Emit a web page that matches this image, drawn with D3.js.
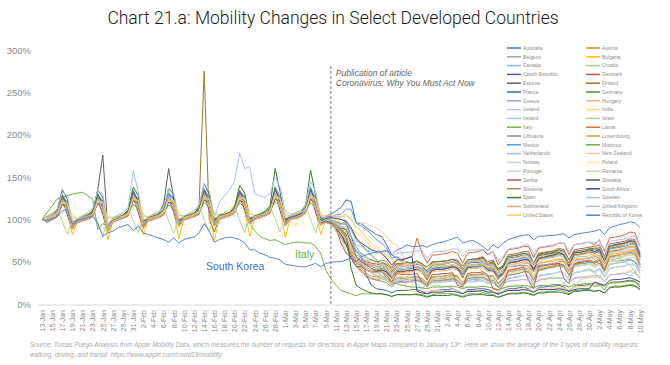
<!DOCTYPE html>
<html><head><meta charset="utf-8">
<script src="https://cdn.jsdelivr.net/npm/d3@7"></script>
<style>body{margin:0;background:#fff;} svg{display:block;font-family:"Liberation Sans",Arial,Helvetica,sans-serif;}</style>
</head><body><svg id="c" width="670" height="365"></svg>
<script>
const startDate = "2020-01-13", endDate = "2020-05-10";
const yTicks = [0, 50, 100, 150, 200, 250, 300];
const countryNames = ["Australia","Austria","Belgium","Bulgaria","Canada","Croatia","Czech Republic","Denmark","Estonia","Finland","France","Germany","Greece","Hungary","Iceland","India","Ireland","Israel","Italy","Latvia","Lithuania","Luxembourg","Mexico","Morocco","Netherlands","New Zealand","Norway","Poland","Portugal","Romania","Serbia","Slovakia","Slovenia","South Africa","Spain","Sweden","Switzerland","United Kingdom","United States","Republic of Korea"];
const countryColors = ["#4472C4","#ED7D31","#A5A5A5","#FFC000","#8db7e0","#A9D18E","#4a5aa8","#c55a44","#636363","#9c7a28","#3a68b0","#4a8a3a","#8faadc","#F4B183","#c8c8c8","#FFD966","#a9c8ec","#b4d89a","#78b04f","#e06d3a","#8c8c8c","#c9a043","#5B9BD5","#70AD47","#9DC3E6","#f8cbad","#d0d0d0","#ffe699","#bdd7ee","#c5e0b4","#b55a50","#595959","#a68a64","#3b4a9a","#3f7a34","#a9c4ec","#f4a470","#bfbfbf","#ffcf50","#5a82d2"];

const australia = [100,99,102,106,122,112,90, 97,100,102,105,124,116,89, 99,101,104,107,127,118,94, 101,103,105,108,128,119,96, 102,104,106,110,131,120,97, 104,105,107,111,130,121,99, 103,106,108,112,133,122,98, 104,106,108,113,135,124,101, 104,106,110,114,123,121,96, 95,90,86,82,80,70,58, 54,50,48,47,48,46,40, 46,47,47,48,50,47,41, 48,49,49,50,44,46,40, 44,51,52,53,55,54,47, 54,55,56,57,59,58,50, 57,58,60,61,62,63,55, 62,63,64,66,68,67,58];
const austria = [100,102,105,110,128,120,90, 99,102,104,108,127,121,87, 98,101,104,110,132,124,92, 101,103,106,111,131,125,94, 102,104,107,113,135,126,95, 104,105,108,114,133,127,97, 102,104,107,112,134,125,95, 101,103,105,110,132,122,96, 98,96,90,84,82,62,45, 38,32,30,29,30,28,22, 28,28,29,29,30,28,21, 29,30,30,31,33,32,23, 32,33,33,35,31,33,22, 30,40,41,42,44,45,32, 45,46,47,48,50,50,37, 48,50,51,52,50,54,40, 56,57,58,60,62,63,46];
const belgium = [100,100,103,107,126,114,91, 97,100,102,106,125,117,88, 97,99,102,107,128,118,92, 99,101,103,108,128,119,94, 100,102,104,110,132,120,95, 102,103,105,111,131,121,97, 102,103,106,111,133,121,95, 101,103,105,111,133,120,96, 99,98,96,94,98,70,50, 48,44,38,33,32,30,26, 31,31,32,32,33,30,25, 32,33,33,34,35,33,26, 34,35,35,36,33,34,25, 30,38,39,40,41,40,31, 41,42,43,44,45,43,34, 44,45,46,47,44,46,36, 47,48,49,50,52,50,39];
const bulgaria = [100,103,106,110,126,108,82, 97,101,104,108,125,107,76, 98,102,105,109,130,111,82, 100,104,106,111,129,109,77, 101,105,107,112,133,112,75, 102,106,108,113,131,110,80, 101,105,108,114,136,112,78, 102,104,107,113,134,110,82, 100,97,94,90,84,62,50, 52,48,44,42,43,40,32, 40,40,41,42,44,40,32, 42,43,43,44,46,44,34, 45,46,47,48,45,44,33, 40,50,51,52,54,52,41, 53,54,55,56,58,56,45, 57,58,59,60,56,58,47, 61,62,63,65,67,66,52];
const canada = [100,102,104,107,125,116,93, 99,101,103,106,124,118,90, 100,102,104,108,128,120,95, 101,103,105,109,127,120,96, 102,104,106,110,130,121,97, 103,105,107,111,129,122,99, 103,105,107,112,132,122,97, 104,106,108,113,133,123,99, 103,104,103,100,96,80,68, 58,52,48,45,46,42,38, 42,41,41,42,44,41,37, 42,42,43,43,45,42,38, 44,44,45,46,42,42,36, 43,46,47,48,50,48,42, 48,49,50,51,53,52,45, 51,52,53,54,56,55,48, 54,55,56,57,60,58,50];
const croatia = [100,96,99,103,120,112,88, 96,99,101,104,122,114,86, 97,99,102,106,126,116,90, 99,100,103,107,125,117,91, 100,102,104,108,128,118,92, 101,103,105,109,127,119,94, 100,102,104,109,129,118,92, 100,101,103,108,128,117,93, 97,95,93,90,88,70,56, 50,44,38,33,30,28,22, 26,26,27,27,28,26,20, 27,28,28,29,30,28,21, 30,31,31,32,29,30,20, 28,34,35,36,38,38,28, 39,40,42,43,45,44,33, 46,48,50,51,48,52,38, 56,57,58,60,62,62,46];
const czechRepublic = [100,101,104,108,124,105,88, 98,100,103,106,123,106,86, 98,101,104,107,126,108,90, 100,102,105,108,125,108,91, 101,103,106,110,129,110,92, 102,104,107,111,128,111,93, 102,104,106,111,131,110,92, 101,103,106,110,130,108,92, 98,94,88,82,75,58,46, 46,42,40,39,40,38,30, 38,38,39,40,41,38,29, 40,41,41,42,44,42,31, 43,44,44,46,40,42,30, 38,48,50,51,53,52,38, 55,56,58,60,62,58,44, 60,62,63,65,60,62,48, 68,70,71,72,74,72,56];
const denmark = [100,97,100,103,118,110,91, 96,98,100,103,120,112,89, 97,99,101,104,123,114,92, 98,100,102,105,122,114,93, 99,101,103,106,125,115,94, 100,102,104,107,124,116,95, 100,102,104,107,126,116,94, 100,101,103,107,125,114,95, 97,96,90,72,60,55,48, 50,48,46,46,48,47,40, 47,47,48,48,50,48,40, 49,50,50,51,53,52,42, 52,53,54,56,50,52,40, 46,58,59,60,62,62,48, 60,61,62,63,66,64,52, 64,65,66,67,68,70,56, 71,72,73,74,77,76,60];
const estonia = [100,99,102,106,126,116,90, 97,100,103,108,135,176,88, 98,100,103,107,130,120,92, 100,102,104,108,130,121,94, 101,103,105,110,133,122,95, 102,104,106,111,132,123,97, 101,103,106,111,135,123,95, 101,103,105,110,134,121,96, 98,95,90,78,70,58,48, 48,46,44,44,46,44,36, 44,44,45,45,47,45,36, 46,47,47,48,50,48,38, 49,50,50,52,46,48,36, 44,54,55,56,58,57,45, 57,58,59,60,62,60,48, 60,61,62,64,62,65,52, 66,67,68,70,72,71,56];
const finland = [100,98,101,105,124,114,92, 97,99,102,105,125,116,89, 98,100,102,106,128,118,93, 99,101,103,107,128,119,94, 100,102,104,118,275,100,85, 102,104,106,110,131,121,97, 101,103,105,110,134,121,95, 101,102,104,109,133,119,96, 97,95,90,82,72,58,48, 50,47,45,44,46,44,38, 45,45,46,46,48,46,38, 47,48,48,49,51,50,40, 50,51,52,54,48,50,38, 46,56,57,58,60,59,47, 58,59,60,61,64,62,50, 61,62,63,65,64,67,54, 68,69,70,72,74,73,58];
const france = [100,102,105,109,128,117,92, 99,101,104,108,127,119,89, 99,101,104,109,131,121,94, 101,103,105,110,130,122,96, 102,104,106,112,135,123,97, 104,105,107,113,133,124,99, 103,104,107,112,136,124,97, 102,104,106,112,137,122,98, 100,99,97,95,96,80,62, 56,34,22,18,17,16,13, 16,16,16,17,17,15,12, 16,16,17,17,18,16,12, 17,17,18,18,17,15,11, 15,18,18,19,20,18,14, 20,20,21,21,22,20,15, 21,22,22,23,21,22,17, 25,26,26,27,28,27,20];
const germany = [100,101,103,107,122,112,90, 97,100,102,105,124,115,88, 98,100,102,106,127,117,92, 99,101,103,107,126,117,93, 100,102,104,109,130,118,94, 101,103,105,110,128,119,96, 101,103,105,110,131,119,94, 100,102,104,109,131,117,95, 97,96,94,90,88,74,62, 60,55,52,50,50,46,44, 48,48,49,49,51,47,44, 50,50,51,51,53,50,45, 52,53,53,55,46,50,42, 45,56,57,58,60,58,48, 59,60,61,62,64,62,52, 62,63,64,65,66,66,54, 67,68,69,70,72,71,58];
const greece = [100,103,106,110,130,120,94, 100,103,105,109,129,122,91, 100,102,105,110,133,124,96, 102,104,106,111,132,125,97, 103,105,107,113,137,126,98, 105,106,108,114,135,127,100, 104,106,108,114,139,127,98, 103,105,107,113,138,125,99, 100,99,96,92,88,70,58, 55,50,44,38,34,30,24, 28,26,26,27,28,25,20, 27,27,28,28,29,27,21, 28,29,29,30,27,26,19, 24,30,31,32,34,32,25, 33,34,35,36,38,37,28, 37,38,39,40,38,42,32, 42,43,44,45,47,46,36];
const hungary = [100,101,104,108,125,110,89, 98,100,103,106,124,112,86, 98,101,103,107,127,114,90, 100,102,104,108,127,115,92, 101,103,105,110,131,116,93, 102,104,106,111,130,117,95, 102,104,106,111,132,117,93, 101,103,105,110,131,115,94, 98,97,94,88,82,66,54, 52,48,46,45,46,44,36, 44,44,45,46,48,45,36, 46,47,47,48,50,48,38, 49,50,50,52,47,46,34, 40,52,53,54,56,55,43, 55,56,57,58,60,58,46, 58,59,60,61,58,60,48, 63,64,65,66,68,67,52];
const iceland = [100,97,101,106,120,118,95, 96,99,103,107,122,121,92, 97,100,104,108,126,123,97, 99,102,105,109,126,124,98, 100,103,106,111,129,125,99, 102,104,107,112,128,126,101, 101,104,107,112,130,126,99, 100,103,106,112,130,124,100, 99,97,95,92,88,76,64, 60,56,50,46,44,42,36, 40,40,41,42,44,42,36, 42,43,43,44,46,44,38, 45,46,47,48,44,46,36, 42,50,51,52,54,55,45, 54,56,57,58,61,60,50, 60,62,63,64,62,66,54, 68,70,71,72,76,75,62];
const india = [100,103,106,108,118,116,104, 101,104,107,108,120,118,102, 102,104,107,109,122,120,106, 103,105,108,110,121,121,107, 104,106,108,111,124,122,108, 105,107,109,112,123,123,110, 104,107,109,112,125,122,108, 98,92,104,108,124,121,107, 102,100,98,96,94,90,84, 80,74,68,64,60,55,30, 42,38,18,15,14,13,12, 14,14,14,15,15,14,12, 15,15,15,16,15,15,13, 15,16,16,17,17,17,15, 18,18,19,19,20,19,17, 20,20,21,21,22,21,18, 24,25,25,26,27,26,22];
const ireland = [100,102,104,108,126,118,93, 99,101,103,107,126,120,90, 99,101,104,108,130,122,95, 101,103,105,109,129,123,96, 102,104,106,111,133,124,97, 104,105,107,112,132,125,99, 103,105,107,112,135,125,97, 103,104,106,112,135,123,98, 100,99,96,90,78,64,52, 48,40,36,34,33,31,27, 30,30,30,29,28,26,22, 25,25,26,26,27,25,21, 26,26,27,27,25,25,20, 24,27,27,28,29,28,23, 29,29,30,30,31,30,25, 30,31,31,32,31,33,27, 34,35,35,36,38,37,30];
const israel = [100,104,107,112,98,82,102, 101,105,108,113,96,80,103, 102,105,108,114,99,84,104, 103,106,109,115,98,83,105, 104,107,110,116,100,85,106, 105,108,111,117,99,84,107, 104,107,110,116,101,85,106, 104,106,109,118,100,84,105, 103,100,85,82,78,58,62, 60,55,48,44,42,28,36, 34,32,30,28,24,18,24, 22,22,21,20,19,15,20, 20,20,18,14,12,10,14, 18,20,22,23,20,16,25, 28,30,31,32,30,24,33, 36,38,40,42,38,30,44, 46,48,49,50,46,38,52];
const italy = [100,102,104,107,124,116,92, 98,100,103,106,123,118,89, 98,100,103,107,127,120,93, 100,102,104,108,126,120,95, 101,103,105,110,131,121,96, 103,104,106,111,128,124,95, 86,80,77,75,76,73,70, 72,73,73,72,72,68,60, 40,30,22,16,14,12,10, 12,12,12,12,12,11,9, 11,11,11,11,12,11,9, 11,12,12,12,12,11,9, 12,12,12,13,12,11,8, 10,12,13,13,14,13,11, 14,14,15,15,16,15,12, 16,16,17,17,15,16,13, 20,21,21,22,23,22,18];
const latvia = [100,101,104,108,126,114,91, 98,100,103,107,126,116,88, 98,101,104,108,129,118,92, 100,102,105,109,128,119,94, 101,103,106,111,132,120,95, 102,104,107,112,131,121,97, 102,104,106,111,133,120,95, 101,103,105,110,132,118,96, 98,96,92,86,78,64,52, 52,50,48,48,52,50,42, 52,53,54,56,78,60,48, 58,58,59,60,62,60,48, 60,61,62,64,58,62,46, 54,64,65,66,68,68,55, 66,67,68,69,72,72,58, 70,71,72,73,70,76,62, 78,79,80,82,85,84,68];
const lithuania = [100,100,103,107,124,112,90, 97,99,102,106,125,114,87, 97,100,103,107,128,116,91, 99,101,104,108,128,117,93, 100,102,105,110,131,118,94, 101,103,106,111,130,119,96, 101,103,105,110,132,118,94, 100,102,104,109,131,116,95, 97,95,92,86,78,62,50, 46,42,40,40,42,40,32, 40,40,41,42,43,41,33, 42,43,43,44,46,44,34, 45,46,46,48,42,44,33, 40,50,51,52,54,54,42, 54,55,56,57,60,58,46, 58,59,60,62,60,63,50, 65,66,67,68,70,70,55];
const luxembourg = [100,101,103,107,122,110,88, 97,99,102,105,121,112,85, 97,99,102,106,124,113,89, 99,100,103,107,124,114,91, 100,101,104,108,127,115,92, 101,102,105,109,126,116,94, 101,102,104,109,128,115,92, 100,101,103,108,127,113,93, 97,94,92,88,82,62,46, 42,36,33,32,32,30,24, 30,30,31,31,32,30,24, 31,32,32,33,34,32,25, 33,34,34,36,32,32,24, 29,38,39,40,42,42,32, 42,43,44,45,47,46,36, 46,47,48,49,46,48,38, 52,53,54,56,58,57,44];
const mexico = [100,102,105,109,126,120,96, 100,103,105,109,126,122,93, 100,103,105,110,129,124,98, 102,104,106,111,128,125,99, 103,105,107,112,132,126,100, 104,106,108,113,130,127,101, 104,106,108,113,133,127,100, 103,105,107,113,133,125,101, 102,104,105,106,112,112,95, 92,88,82,76,72,66,54, 56,52,50,48,48,45,38, 46,45,45,45,46,43,36, 44,44,44,45,40,38,32, 38,44,44,45,46,44,38, 46,46,47,47,48,46,40, 47,48,48,49,50,48,42, 50,51,51,52,53,50,43];
const morocco = [100,108,116,124,126,128,130, 131,132,128,124,88,95,92, 98,100,104,106,118,112,95, 100,102,104,107,117,113,96, 101,103,105,109,120,114,97, 102,104,106,110,119,115,99, 102,104,106,110,121,115,97, 101,103,105,109,120,113,98, 100,99,97,95,94,88,76, 70,64,58,52,40,30,26, 24,22,21,20,20,19,18, 20,20,20,21,21,20,18, 20,20,20,21,20,19,17, 19,21,21,21,22,21,19, 22,22,22,23,23,22,20, 23,23,24,24,24,23,21, 25,25,26,26,27,26,23];
const netherlands = [100,101,103,107,123,115,92, 97,100,102,105,124,117,89, 98,100,102,106,127,118,93, 99,101,103,107,126,119,94, 100,102,104,109,130,120,95, 102,103,105,110,128,121,97, 101,103,105,110,131,120,95, 101,102,104,109,131,118,96, 98,97,95,92,88,70,56, 52,46,44,43,44,42,36, 42,42,43,43,45,42,36, 44,44,45,45,47,45,38, 46,47,47,49,45,47,38, 42,50,51,52,54,54,44, 52,53,54,55,57,56,46, 55,56,56,57,55,58,48, 60,61,62,63,65,64,52];
const newZealand = [100,101,104,108,120,118,95, 98,101,103,106,121,120,93, 99,101,104,107,124,122,97, 100,102,105,108,123,122,98, 101,103,106,110,126,123,99, 102,104,107,111,125,124,100, 102,104,107,111,127,124,99, 102,103,106,110,127,122,100, 100,101,102,103,104,100,90, 96,95,92,90,86,80,72, 70,60,40,24,18,16,14, 16,16,16,16,17,16,13, 16,16,16,17,14,15,12, 14,17,17,17,18,17,14, 18,18,18,18,19,18,15, 16,28,30,31,32,32,26, 34,35,36,37,40,40,32];
const norway = [100,99,102,106,121,113,91, 97,99,101,105,122,115,88, 97,99,102,106,125,116,92, 99,100,103,107,124,117,93, 100,101,104,108,128,118,94, 101,102,105,109,127,119,96, 100,102,104,109,129,118,94, 100,101,103,108,129,116,95, 97,95,92,80,62,54,48, 48,45,44,44,46,45,40, 45,45,46,46,48,46,40, 47,48,48,49,51,49,42, 50,51,51,48,40,42,36, 38,53,54,55,57,57,47, 56,57,58,59,62,61,50, 60,61,62,63,62,66,52, 67,68,69,70,72,72,58];
const poland = [100,101,104,108,122,110,88, 97,100,103,106,122,112,85, 97,100,103,107,125,114,89, 99,101,104,108,124,114,90, 100,102,105,110,128,115,91, 101,103,106,111,127,116,93, 101,103,105,110,129,115,91, 100,102,104,109,128,113,92, 97,95,92,84,76,58,46, 44,40,38,37,38,36,28, 36,36,37,37,38,36,27, 34,34,35,35,36,34,26, 36,37,37,38,30,32,22, 28,40,41,42,44,44,32, 44,45,46,47,49,48,36, 48,49,50,51,45,46,36, 53,54,55,56,58,57,44];
const portugal = [100,102,104,108,124,118,93, 99,101,103,107,124,120,90, 99,101,104,108,128,122,95, 101,103,105,109,127,122,96, 102,104,106,111,131,123,97, 103,105,107,112,129,124,99, 103,105,107,112,132,124,97, 102,104,106,111,132,122,98, 100,98,96,92,86,72,56, 50,42,38,34,32,30,24, 28,28,28,28,29,27,22, 28,28,29,29,30,28,22, 29,30,30,31,26,26,20, 24,31,32,33,34,33,26, 34,35,36,36,38,37,29, 37,38,39,40,36,40,31, 42,43,44,45,47,46,36];
const romania = [100,101,104,107,121,112,90, 98,100,103,106,121,114,87, 98,100,103,107,124,116,91, 99,101,104,108,123,116,92, 100,102,105,109,127,117,93, 101,103,106,110,126,118,95, 101,103,105,110,128,117,93, 100,102,104,109,127,115,94, 97,96,93,88,84,66,52, 48,42,40,38,36,34,28, 34,32,31,30,31,28,22, 30,30,31,31,32,30,24, 32,33,33,34,32,30,22, 28,36,37,38,40,40,30, 40,41,42,43,45,44,34, 44,45,46,47,44,46,36, 50,51,52,53,55,54,42];
const serbia = [100,100,103,107,123,113,90, 97,99,102,105,123,115,87, 97,99,102,106,126,116,91, 99,101,103,107,125,117,92, 100,102,104,109,129,118,93, 101,103,105,110,128,119,95, 101,102,105,109,130,118,93, 100,102,104,109,130,116,94, 97,96,94,90,88,72,56, 50,46,42,40,38,34,26, 36,35,35,35,36,26,22, 35,35,36,36,37,22,20, 36,37,37,38,34,18,16, 22,40,41,42,44,28,18, 44,45,46,47,48,30,24, 48,49,50,51,48,52,40, 56,57,58,59,61,60,46];
const slovakia = [100,100,103,108,128,116,90, 98,100,103,108,130,118,87, 98,101,104,109,134,120,92, 100,102,106,118,160,124,94, 101,103,106,111,134,121,95, 102,104,107,112,133,122,97, 102,104,106,112,137,121,95, 101,103,106,111,136,119,96, 98,96,90,82,70,54,44, 44,40,38,38,40,38,30, 38,38,39,39,41,38,29, 40,41,41,42,44,42,31, 43,44,44,46,40,40,29, 36,48,49,50,52,52,40, 54,55,57,58,61,58,45, 60,61,62,64,62,65,50, 68,70,71,72,75,74,58];
const slovenia = [100,100,103,107,124,112,89, 97,99,102,105,124,114,86, 97,100,102,106,127,115,90, 99,101,103,107,126,116,92, 100,102,104,109,130,117,93, 101,103,105,110,129,118,95, 101,103,105,110,131,117,93, 100,102,104,109,130,115,94, 97,95,92,86,78,58,44, 40,34,30,28,27,25,20, 26,26,26,27,28,26,20, 27,28,28,29,30,28,21, 30,31,31,32,28,28,20, 26,34,35,36,38,38,28, 40,41,43,44,46,45,34, 47,48,50,51,48,52,40, 56,57,58,59,62,61,47];
const southAfrica = [100,102,104,107,118,114,96, 100,102,104,106,119,116,94, 100,102,104,107,122,118,98, 101,103,105,108,120,118,99, 102,104,106,109,123,119,100, 103,105,107,110,122,120,101, 103,105,107,110,124,120,100, 102,104,106,110,124,118,100, 101,102,101,100,98,90,78, 72,68,64,62,60,54,46, 52,52,54,56,15,13,12, 14,14,14,15,15,14,12, 15,15,15,16,14,14,12, 14,16,16,16,17,16,14, 17,17,17,17,18,17,15, 17,18,18,18,26,24,22, 28,29,29,30,31,29,26];
const spain = [100,103,106,111,135,124,92, 99,102,105,110,134,126,89, 99,102,105,111,138,128,94, 102,104,106,112,137,129,96, 103,105,107,114,142,130,97, 105,106,108,115,140,131,99, 104,106,109,116,160,132,97, 104,106,108,116,158,128,98, 100,98,94,88,82,42,22, 18,15,13,12,12,11,9, 11,11,11,11,11,10,8, 10,10,10,10,11,10,8, 10,11,11,11,10,10,8, 10,12,12,12,13,12,10, 13,13,14,14,14,13,11, 15,15,16,16,15,16,13, 19,20,20,21,22,21,17];
const sweden = [100,103,106,112,132,128,96, 101,104,107,112,134,130,94, 102,105,108,114,158,132,99, 103,106,108,114,137,131,100, 104,107,110,117,142,134,102, 120,128,135,145,178,160,162, 130,128,126,130,150,138,110, 106,108,110,116,145,132,104, 100,98,94,90,92,80,70, 68,64,62,60,62,62,54, 60,60,61,61,63,63,54, 61,62,62,63,65,65,56, 63,64,64,65,60,62,52, 56,65,66,67,69,70,60, 67,68,69,70,72,72,62, 70,71,72,73,72,75,64, 74,75,76,77,80,80,68];
const switzerland = [100,100,103,107,122,113,90, 97,99,102,105,122,115,87, 97,99,102,106,125,116,91, 99,100,103,107,124,117,92, 100,101,104,108,128,118,93, 101,102,105,109,127,119,95, 100,102,104,109,129,118,93, 100,101,103,108,129,116,94, 96,94,90,86,80,62,50, 48,40,38,37,38,36,30, 37,37,38,38,40,38,30, 38,39,39,40,42,40,32, 41,42,42,43,38,38,30, 34,44,45,46,48,48,38, 48,49,50,51,53,52,42, 52,53,54,55,53,56,44, 58,59,60,61,63,62,48];
const unitedKingdom = [100,101,103,107,122,118,92, 98,100,102,106,123,120,89, 98,100,103,107,126,122,94, 100,102,104,108,125,122,95, 101,103,105,110,129,123,96, 102,104,106,111,128,124,98, 102,103,106,110,130,123,96, 101,103,105,110,130,121,97, 99,98,96,94,96,88,74, 70,62,56,52,50,42,34, 32,28,26,26,27,25,21, 26,26,27,27,28,26,21, 27,27,28,28,24,25,19, 23,27,28,28,29,28,23, 29,29,30,30,31,30,25, 31,32,32,33,34,33,27, 34,35,36,36,33,38,30];
const unitedStates = [100,102,104,107,120,118,98, 100,102,104,106,121,120,96, 100,102,104,107,124,122,100, 101,103,105,108,123,122,101, 102,104,106,109,126,123,102, 103,105,107,110,125,124,103, 103,105,107,110,127,124,102, 104,106,108,111,128,124,104, 104,105,104,103,106,100,90, 86,78,72,66,62,58,52, 52,50,48,47,48,46,42, 46,45,45,45,46,44,40, 45,45,45,46,44,44,38, 42,47,47,48,50,50,44, 50,51,51,52,54,54,47, 53,54,54,55,57,57,50, 57,58,58,59,62,61,54];
const republicOfKorea = [100,98,101,103,110,112,94, 99,100,102,104,95,80,84, 86,90,92,94,87,92,84, 82,80,78,76,73,78,72, 76,78,79,84,95,86,73, 76,78,79,78,76,72,64, 64,60,58,55,54,52,47, 46,45,44,44,46,48,44, 48,49,50,50,52,54,50, 56,58,60,61,62,63,58, 64,66,70,68,68,69,67, 70,72,73,75,77,79,72, 74,75,72,68,63,70,66, 72,76,78,80,81,82,76, 80,80,81,81,82,83,78, 82,83,84,85,86,88,82, 90,92,94,95,97,96,90];

const seriesValues = [australia, austria, belgium, bulgaria, canada, croatia, czechRepublic, denmark, estonia, finland, france, germany, greece, hungary, iceland, india, ireland, israel, italy, latvia, lithuania, luxembourg, mexico, morocco, netherlands, newZealand, norway, poland, portugal, romania, serbia, slovakia, slovenia, southAfrica, spain, sweden, switzerland, unitedKingdom, unitedStates, republicOfKorea];

const svg = d3.select("#c");
const parse = d3.utcParse("%Y-%m-%d");
const dates = d3.utcDay.range(parse(startDate), d3.utcDay.offset(parse(endDate), 1));
const x = d3.scaleUtc().domain([dates[0], dates[dates.length - 1]]).range([42, 640]);
const y = d3.scaleLinear().domain([0, 300]).range([304, 50]);

// title
svg.append("text").attr("x", 333).attr("y", 24).attr("text-anchor", "middle")
  .attr("font-family", "Roboto, 'Liberation Sans', Arial, sans-serif").attr("font-weight", 300)
  .attr("font-size", 17.5).attr("fill", "#1a1a1a").text("Chart 21.a: Mobility Changes in Select Developed Countries");

// y axis labels
const gy = svg.append("g").attr("transform", "translate(34,0)")
  .call(d3.axisLeft(y).tickValues(yTicks).tickFormat(d => d + "%").tickSize(0).tickPadding(3));
gy.select(".domain").remove();
gy.selectAll("text").attr("fill", "#8c8c8c").attr("font-size", 9.5).attr("font-family", "Liberation Sans, Arial, sans-serif");

// x axis
const gx = svg.append("g").attr("transform", "translate(0,305)")
  .call(d3.axisBottom(x).tickValues(dates.filter((d, i) => i % 2 === 0)).tickFormat(d3.utcFormat("%-d-%b")).tickSize(0));
gx.select(".domain").attr("stroke", "#d9d9d9").attr("d", "M38,0H643");
gx.selectAll("text").attr("transform", "rotate(-90)").attr("text-anchor", "end")
  .attr("x", -5).attr("y", 0).attr("dy", "0.32em").attr("fill", "#8c8c8c").attr("font-size", 7)
  .attr("font-family", "Liberation Sans, Arial, sans-serif");

// lines
const line = d3.line().x((d, i) => x(dates[i])).y(d => y(d));
svg.append("g").selectAll("path").data(seriesValues).join("path")
  .attr("d", line).attr("fill", "none")
  .attr("stroke", (d, i) => countryColors[i]).attr("stroke-width", 1).attr("stroke-linejoin", "round");

// publication line
const pubX = x(parse("2020-03-10"));
svg.append("line").attr("x1", pubX).attr("x2", pubX).attr("y1", 66).attr("y2", 305)
  .attr("stroke", "#777").attr("stroke-dasharray", "3,2").attr("stroke-width", 1);
svg.append("text").attr("x", pubX + 5).attr("y", 76).attr("font-size", 8.5).attr("font-style", "italic").attr("fill", "#666")
  .text("Publication of article");
svg.append("text").attr("x", pubX + 5).attr("y", 86).attr("font-size", 8.5).attr("font-style", "italic").attr("fill", "#666")
  .text("Coronavirus: Why You Must Act Now");

// annotations
svg.append("text").attr("x", 206).attr("y", 270).attr("font-size", 10.5).attr("fill", "#4472C4").text("South Korea");
svg.append("text").attr("x", 295).attr("y", 258).attr("font-size", 10.5).attr("fill", "#70AD47").text("Italy");

// legend
const lg = svg.append("g");
countryNames.forEach((name, i) => {
  const col = i % 2, row = Math.floor(i / 2);
  const lx = col === 0 ? 507 : 586;
  const ly = 48 + row * 8.8;
  lg.append("line").attr("x1", lx).attr("x2", lx + 14).attr("y1", ly).attr("y2", ly)
    .attr("stroke", countryColors[i]).attr("stroke-width", 1.5);
  lg.append("text").attr("x", lx + 16).attr("y", ly + 1.7).attr("font-size", 5).attr("fill", "#8c8c8c").text(name);
});

// source
const src = svg.append("text").attr("x", 30).attr("y", 347).attr("font-size", 6.4).attr("font-style", "italic").attr("fill", "#aaa");
src.append("tspan").text("Source: Tomas Pueyo Analysis from Apple Mobility Data, which measures the number of requests for directions in Apple Maps compared to January 13");
src.append("tspan").attr("font-size", 4).attr("dy", -2.5).text("th");
src.append("tspan").attr("dy", 2.5).text(". Here we show the average of the 3 types of mobility requests:");
svg.append("text").attr("x", 30).attr("y", 357).attr("font-size", 6.4).attr("font-style", "italic").attr("fill", "#aaa")
  .text("walking, driving, and transit. https://www.apple.com/covid19/mobility");
</script></body></html>
